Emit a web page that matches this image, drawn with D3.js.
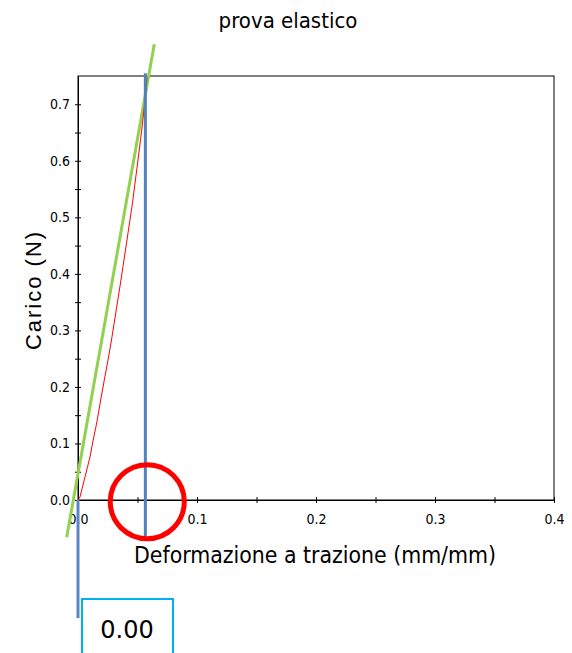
<!DOCTYPE html>
<html>
<head>
<meta charset="utf-8">
<script src="https://cdn.jsdelivr.net/npm/d3@7"></script>
<style>
  body { margin: 0; background: #fff; }
  svg { display: block; }
  .tahoma { font-family: "DejaVu Sans Condensed", "DejaVu Sans", sans-serif; font-stretch: condensed; }
</style>
</head>
<body>
<svg id="chart" width="572" height="653"></svg>
<script>
// prova elastico - load vs strain
const strain = [0, 0.00168, 0.00378, 0.00588, 0.00798, 0.01008, 0.01261, 0.01571, 0.01891, 0.02210,
  0.02521, 0.02815, 0.03067, 0.03319, 0.03571, 0.03824, 0.04076, 0.04328, 0.04580, 0.04790,
  0.05000, 0.05168, 0.05336, 0.05479, 0.05613, 0.05714, 0.05773, 0.05798];
const load = [0, 0.0053, 0.0230, 0.0407, 0.0584, 0.0761, 0.1044, 0.1362, 0.1751, 0.2123,
  0.2476, 0.2830, 0.3166, 0.3502, 0.3838, 0.4192, 0.4546, 0.4900, 0.5254, 0.5607,
  0.5943, 0.6227, 0.6510, 0.6775, 0.7040, 0.7252, 0.7394, 0.7482];

// tangent (elastic fit) endpoints
const fitX = [-0.0095, 0.0641];
const fitY = [-0.066, 0.806];

// vertical markers
const markX = [0.0566, 0];
const markTop = [0.755, 0];
const markBottom = [-0.064, -0.209];

// circled point
const circleAt = [0.0582, -0.003];

const xTicks = [0, 0.05, 0.1, 0.15, 0.2, 0.25, 0.3, 0.35, 0.4];
const yTicks = [0, 0.05, 0.1, 0.15, 0.2, 0.25, 0.3, 0.35, 0.4, 0.45, 0.5, 0.55, 0.6, 0.65, 0.7];
const boxValue = "0.00";

const svg = d3.select("#chart");
const m = {left: 78, right: 554, top: 76, bottom: 500};

const x = d3.scaleLinear().domain([0, 0.4]).range([m.left, m.right]);
const y = d3.scaleLinear().domain([0, 0.75]).range([m.bottom, m.top]);

// title
svg.append("text").attr("class", "tahoma")
  .attr("x", 288).attr("y", 28)
  .attr("text-anchor", "middle")
  .attr("font-size", 22)
  .text("prova elastico");

// frame
svg.append("rect")
  .attr("x", m.left).attr("y", m.top)
  .attr("width", m.right - m.left).attr("height", m.bottom - m.top)
  .attr("fill", "none").attr("stroke", "#000").attr("stroke-width", 1);

const fmt = d => (Math.round(d * 100) % 10 === 0) ? d3.format(".1f")(d) : "";

const xAxis = svg.append("g")
  .attr("transform", `translate(0,${m.bottom})`)
  .call(d3.axisBottom(x).tickValues(xTicks).tickFormat(fmt).tickSizeOuter(0).tickSizeInner(3).tickPadding(11));
xAxis.selectAll(".tick line").attr("y1", -3);

const yAxis = svg.append("g")
  .attr("transform", `translate(${m.left},0)`)
  .call(d3.axisLeft(y).tickValues(yTicks).tickFormat(fmt).tickSizeOuter(0).tickSizeInner(3).tickPadding(5));
yAxis.selectAll(".tick line").attr("x1", 3);

[xAxis, yAxis].forEach(a => {
  a.select(".domain").attr("stroke", "#000");
  a.selectAll("text").attr("class", "tahoma").attr("font-size", 14).attr("fill", "#000");
});

// axis titles
svg.append("text").attr("class", "tahoma")
  .attr("x", 315).attr("y", 563)
  .attr("text-anchor", "middle")
  .attr("font-size", 22.8)
  .text("Deformazione a trazione (mm/mm)");

svg.append("text")
  .attr("transform", "translate(41,290) rotate(-90)")
  .attr("text-anchor", "middle")
  .attr("font-family", "Liberation Sans, Arial, sans-serif")
  .attr("font-size", 22)
  .attr("letter-spacing", 2)
  .text("Carico  (N)");

// elastic fit line
svg.append("line")
  .attr("x1", x(fitX[0])).attr("y1", y(fitY[0]))
  .attr("x2", x(fitX[1])).attr("y2", y(fitY[1]))
  .attr("stroke", "#92d050").attr("stroke-width", 3);

// measured curve
const pts = strain.map((s, i) => [s, load[i]]);
svg.append("path")
  .datum(pts)
  .attr("d", d3.line().x(d => x(d[0])).y(d => y(d[1])))
  .attr("fill", "none").attr("stroke", "#ff0000").attr("stroke-width", 1);

// vertical markers
svg.selectAll(".mark").data(markX).join("line")
  .attr("class", "mark")
  .attr("x1", d => x(d)).attr("x2", d => x(d))
  .attr("y1", (d, i) => y(markTop[i])).attr("y2", (d, i) => y(markBottom[i]))
  .attr("stroke", (d, i) => i === 0 ? "#4f81bd" : "#5b84c4")
  .attr("stroke-width", 3);

// circle
svg.append("circle")
  .attr("cx", x(circleAt[0])).attr("cy", y(circleAt[1]))
  .attr("r", 37)
  .attr("fill", "none").attr("stroke", "#ff0000").attr("stroke-width", 5);

// value box
svg.append("rect")
  .attr("x", 82).attr("y", 599).attr("width", 91).attr("height", 60)
  .attr("fill", "#fff").attr("stroke", "#00b0f0").attr("stroke-width", 2);
svg.append("text")
  .attr("x", 127).attr("y", 638)
  .attr("text-anchor", "middle")
  .attr("font-family", "DejaVu Sans, sans-serif")
  .attr("font-size", 24)
  .text(boxValue);
</script>
</body>
</html>
